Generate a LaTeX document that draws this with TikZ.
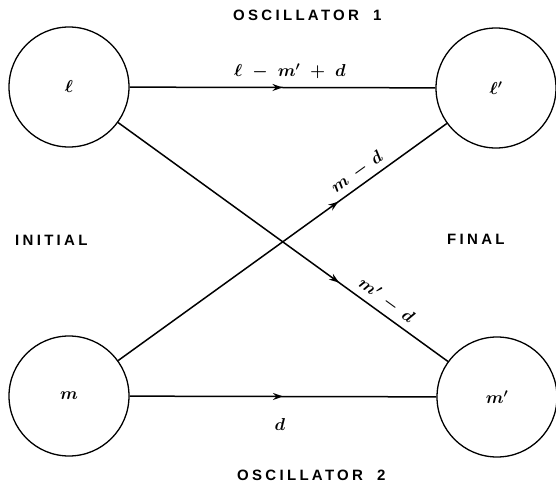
\documentclass[tikz,border=0pt]{standalone}
\usepackage{fontspec}
\newfontfamily\capfont[LetterSpace=22]{Liberation Sans}
\usetikzlibrary{decorations.markings,arrows.meta}
\begin{document}
\begin{tikzpicture}[x=1pt,y=-1pt,
  osc/.style={circle,draw,line width=1.3pt,minimum size=120pt,inner sep=0pt,font=\fontsize{18}{20}\selectfont\boldmath},
  link/.style={line width=1.5pt},
  midarrow/.style={postaction={decorate},decoration={markings,mark=at position #1 with {\arrow{Stealth[length=10pt,width=7pt]}}}},
  hand/.style={font=\fontsize{18}{20}\selectfont\boldmath},
  captext/.style={font=\capfont\bfseries\fontsize{15}{17}\selectfont,anchor=west,inner sep=0pt}]
\useasboundingbox (0,0) rectangle (556,489);
\node[osc] (l)  at (69,87)   {$\ell$};
\node[osc] (lp) at (496,88)  {$\ell'$};
\node[osc] (m)  at (69,396)  {$m$};
\node[osc] (mp) at (497,397) {$m'$};
\draw[link,midarrow=0.5] (l) -- (lp);
\draw[link,midarrow=0.5] (m) -- (mp);
\draw[link,midarrow=0.67] (l) -- node[hand,sloped,above,pos=0.79,inner sep=5pt] {$m'\,-\,d$} (mp);
\draw[link,midarrow=0.67] (m) -- node[hand,sloped,above,pos=0.75,inner sep=5pt] {$m\,-\,d$} (lp);
\node[hand] (top) at (290,71) {$\ell\;-\;m'\;+\;d$};
\node[hand] (bot) at (280,424) {$d$};
\node[captext] (o1) at (233,15) {OSCILLATOR\hspace{14pt}1};
\node[captext] (o2) at (237,475) {OSCILLATOR\hspace{14pt}2};
\node[captext] (ini) at (15,240) {INITIAL};
\node[captext] (fin) at (447,239) {FINAL};
\end{tikzpicture}
\end{document}
